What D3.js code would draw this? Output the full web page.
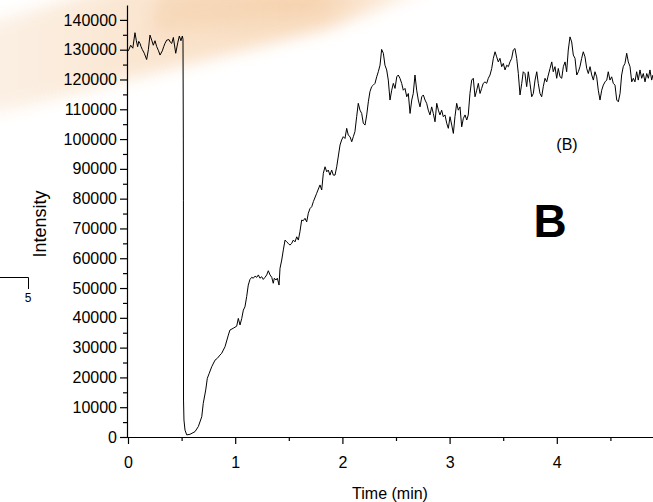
<!DOCTYPE html>
<html>
<head>
<meta charset="utf-8">
<script src="https://cdn.jsdelivr.net/npm/d3@7"></script>
<style>
  html, body { margin: 0; padding: 0; background: #ffffff; }
  svg { display: block; font-family: "Liberation Sans", Arial, sans-serif; }
</style>
</head>
<body>
<svg id="chart" width="653" height="502"></svg>
<script>
// ---- Data ----
const timeMin = [
  0.003,0.025,0.045,0.065,0.078,0.090,0.100,0.112,0.122,0.133,0.152,0.174,0.190,0.205,0.221,0.236,0.252,0.268,0.283,0.299,
  0.320,0.333,0.345,0.361,0.382,0.395,0.408,0.423,0.445,0.464,0.479,0.494,0.507,0.513,
  0.516,0.517,0.518,0.522,0.532,0.548,0.578,0.625,0.656,0.688,0.702,0.725,0.740,0.758,0.781,0.812,0.833,0.858,0.874,0.905,
  0.936,0.951,0.982,1.014,1.029,1.045,1.061,1.076,1.091,1.107,1.122,1.138,1.154,1.169,1.185,1.201,1.216,1.231,1.247,1.262,
  1.278,1.294,1.309,1.325,1.341,1.355,1.365,1.381,1.393,1.409,1.418,1.434,1.449,1.465,1.480,1.495,1.511,1.527,1.542,1.558,
  1.574,1.589,1.604,1.620,1.635,1.651,1.667,1.682,1.698,1.714,1.729,1.760,1.791,1.807,1.822,1.838,1.854,1.868,1.884,1.900,
  1.915,1.931,1.947,1.978,1.993,2.008,2.024,2.040,2.055,2.071,2.087,2.102,2.117,2.133,2.148,2.164,2.180,2.195,2.211,2.227,
  2.242,2.257,2.273,2.288,2.304,2.320,2.335,2.351,2.366,2.382,2.397,2.413,2.428,2.444,2.460,2.475,2.491,2.507,2.521,2.537,
  2.553,2.568,2.584,2.600,2.615,2.631,2.647,2.661,2.677,2.693,2.708,2.724,2.740,2.755,2.771,2.786,2.801,2.817,2.833,2.848,
  2.864,2.880,2.895,2.910,2.926,2.941,2.957,2.973,2.988,3.004,3.020,3.035,3.050,3.066,3.081,3.097,3.113,3.128,3.144,3.160,
  3.174,3.190,3.206,3.221,3.237,3.253,3.268,3.284,3.299,3.314,3.330,3.346,3.361,3.377,3.393,3.408,3.424,3.439,3.454,3.470,
  3.486,3.501,3.517,3.533,3.548,3.563,3.579,3.594,3.610,3.626,3.641,3.657,3.673,3.687,3.703,3.719,3.734,3.750,3.766,3.781,
  3.797,3.813,3.827,3.843,3.859,3.874,3.890,3.906,3.921,3.937,3.953,3.967,3.983,3.999,4.014,4.030,4.046,4.061,4.077,4.092,
  4.107,4.123,4.139,4.154,4.170,4.186,4.201,4.216,4.232,4.247,4.263,4.279,4.294,4.310,4.326,4.341,4.356,4.372,4.387,4.403,
  4.419,4.434,4.450,4.466,4.480,4.496,4.512,4.527,4.543,4.559,4.574,4.590,4.605,4.620,4.636,4.652,4.667,4.683,4.699,4.714,
  4.729,4.745,4.760,4.776,4.792,4.807,4.823,4.839,4.854,4.869,4.885,4.897,4.920,4.950,4.980
];
const intensity = [
  129600,131500,130500,135700,133000,131000,132800,132100,131000,130100,128800,126700,130000,134900,133200,131500,133000,131000,129800,128200,
  129600,131000,132100,133200,133400,132500,132100,134100,128800,132300,134600,133000,134600,133500,
  100000,79500,12400,5700,2300,700,900,1800,3500,6800,11300,15800,19700,21400,23600,25800,26400,27500,28100,30300,
  34200,35900,36500,37200,39800,37600,39800,42600,43700,47100,51000,52900,53600,53300,54000,53600,54400,53300,53800,52900,
  53600,54400,55800,54400,53600,51600,53300,52700,53300,51000,56600,59400,62800,66100,65500,65000,64400,65000,66100,65500,
  67200,66100,68900,72800,72600,73400,72200,75100,76700,77300,79000,81800,84600,82900,88500,90700,89000,89600,87900,89600,
  87900,87900,90700,98000,99700,100800,100200,103600,101300,100800,99100,100800,102500,107500,112000,109700,108600,105300,104700,108100,
  112500,115900,117600,118100,118700,120900,122600,124800,130100,128800,124800,123200,119800,113100,116400,118700,117000,120900,121500,120400,
  118700,116400,117000,114200,115300,108600,113100,115300,121500,116400,113100,110800,114200,114800,113100,112000,109700,108100,110800,108600,
  105800,112000,109700,108100,109700,107500,108100,105300,103600,107500,104700,101900,107500,112000,109700,110800,104100,106900,108100,106400,
  108100,115300,119800,120400,114200,116400,118700,115300,117000,118700,119200,118700,120400,121500,123700,127100,129300,127600,125900,127100,
  124300,125400,123200,124800,124300,125900,127100,129900,130400,127100,122000,114800,118700,122600,122000,117600,122600,118700,114200,115300,
  119800,122600,118700,115300,114200,117600,120400,119200,121500,123700,125900,122600,124300,120400,123700,120900,120400,124300,125900,122600,
  129900,134300,132600,128200,127100,121500,122600,124300,127100,129300,127600,123700,122000,124300,121500,119800,122600,120900,116400,113100,
  116400,118100,119200,119800,122600,119800,120900,118700,118100,113100,112500,115300,121500,124300,125400,128800,125900,124300,119200,120400,
  119200,122600,119800,123200,120400,122000,119200,122000,120400,123200,119800,121500,120500,122000,120800
];
const xTicks = [0, 1, 2, 3, 4];
const xMinorTicks = [0.5, 1.5, 2.5, 3.5, 4.5];
const yTicks = [0,10000,20000,30000,40000,50000,60000,70000,80000,90000,100000,110000,120000,130000,140000];
const yMinorTicks = [5000,15000,25000,35000,45000,55000,65000,75000,85000,95000,105000,115000,125000,135000];
const xTitle = "Time (min)";
const yTitle = "Intensity";
const panelNote = "(B)";
const panelLetter = "B";
const sideMark = "5";

// ---- Layout ----
const svg = d3.select("#chart");
const x = d3.scaleLinear().domain([0, 5]).range([128, 664]);
const y = d3.scaleLinear().domain([0, 145000]).range([437, 5]);

// background watermark (decorative)
const defs = svg.append("defs");
const grad = defs.append("linearGradient").attr("id", "wm").attr("x1", "0%").attr("y1", "0%").attr("x2", "100%").attr("y2", "0%");
grad.append("stop").attr("offset", "0%").attr("stop-color", "#fcf1e6");
grad.append("stop").attr("offset", "45%").attr("stop-color", "#f9e0c6");
grad.append("stop").attr("offset", "75%").attr("stop-color", "#f7d6b4");
grad.append("stop").attr("offset", "100%").attr("stop-color", "#fef6ee");
defs.append("filter").attr("id", "blur").attr("x", "-20%").attr("y", "-50%").attr("width", "140%").attr("height", "200%")
  .append("feGaussianBlur").attr("stdDeviation", 8);
svg.append("path")
  .attr("d", "M-30,28 L120,-15 L440,-15 L330,28 L0,112 L-30,112 Z")
  .attr("fill", "url(#wm)").attr("filter", "url(#blur)").attr("opacity", 0.9);
svg.append("path")
  .attr("d", "M160,-10 L350,-10 L300,14 L150,34 Z")
  .attr("fill", "#f2c292").attr("filter", "url(#blur)").attr("opacity", 0.3);

// axes
const fontSize = 16;
const gx = svg.append("g").attr("transform", "translate(0,437)")
  .call(d3.axisBottom(x).tickValues(xTicks).tickFormat(d3.format("d")).tickSize(7).tickPadding(12.5).tickSizeOuter(0));
const gxm = svg.append("g").attr("transform", "translate(0,437)")
  .call(d3.axisBottom(x).tickValues(xMinorTicks).tickFormat("").tickSize(4).tickSizeOuter(0));
gxm.select(".domain").remove();
const gy = svg.append("g").attr("transform", "translate(127,0)")
  .call(d3.axisLeft(y).tickValues(yTicks).tickFormat(d3.format("d")).tickSize(7).tickPadding(3).tickSizeOuter(0));
const gym = svg.append("g").attr("transform", "translate(127,0)")
  .call(d3.axisLeft(y).tickValues(yMinorTicks).tickFormat("").tickSize(4).tickSizeOuter(0));
gym.select(".domain").remove();
svg.selectAll(".tick text").attr("font-size", fontSize).attr("font-family", "Liberation Sans, Arial, sans-serif").attr("fill", "#000");
svg.selectAll(".domain, .tick line").attr("stroke", "#000").attr("stroke-width", 1.2);
gx.select(".domain").attr("d", "M127,0.5H700");

// line
const line = d3.line().x((d, i) => x(timeMin[i])).y(d => y(d));
svg.append("path").datum(intensity)
  .attr("d", line).attr("fill", "none").attr("stroke", "#000").attr("stroke-width", 1).attr("stroke-linejoin", "round");

// titles
svg.append("text").attr("x", 390).attr("y", 499).attr("text-anchor", "middle")
  .attr("font-size", 16).text(xTitle);
svg.append("text").attr("transform", "translate(46,224) rotate(-90)").attr("text-anchor", "middle")
  .attr("font-size", 18).text(yTitle);
svg.append("text").attr("x", 567).attr("y", 150).attr("text-anchor", "middle")
  .attr("font-size", 16).text(panelNote);
svg.append("text").attr("x", 550).attr("y", 237).attr("text-anchor", "middle")
  .attr("font-size", 46).attr("font-weight", "bold").text(panelLetter);

// side bracket mark
svg.append("path").attr("d", "M0,277.5H28.5V289").attr("fill", "none").attr("stroke", "#000").attr("stroke-width", 1);
svg.append("text").attr("x", 28).attr("y", 302).attr("text-anchor", "middle")
  .attr("font-size", 12).text(sideMark);
</script>
</body>
</html>
